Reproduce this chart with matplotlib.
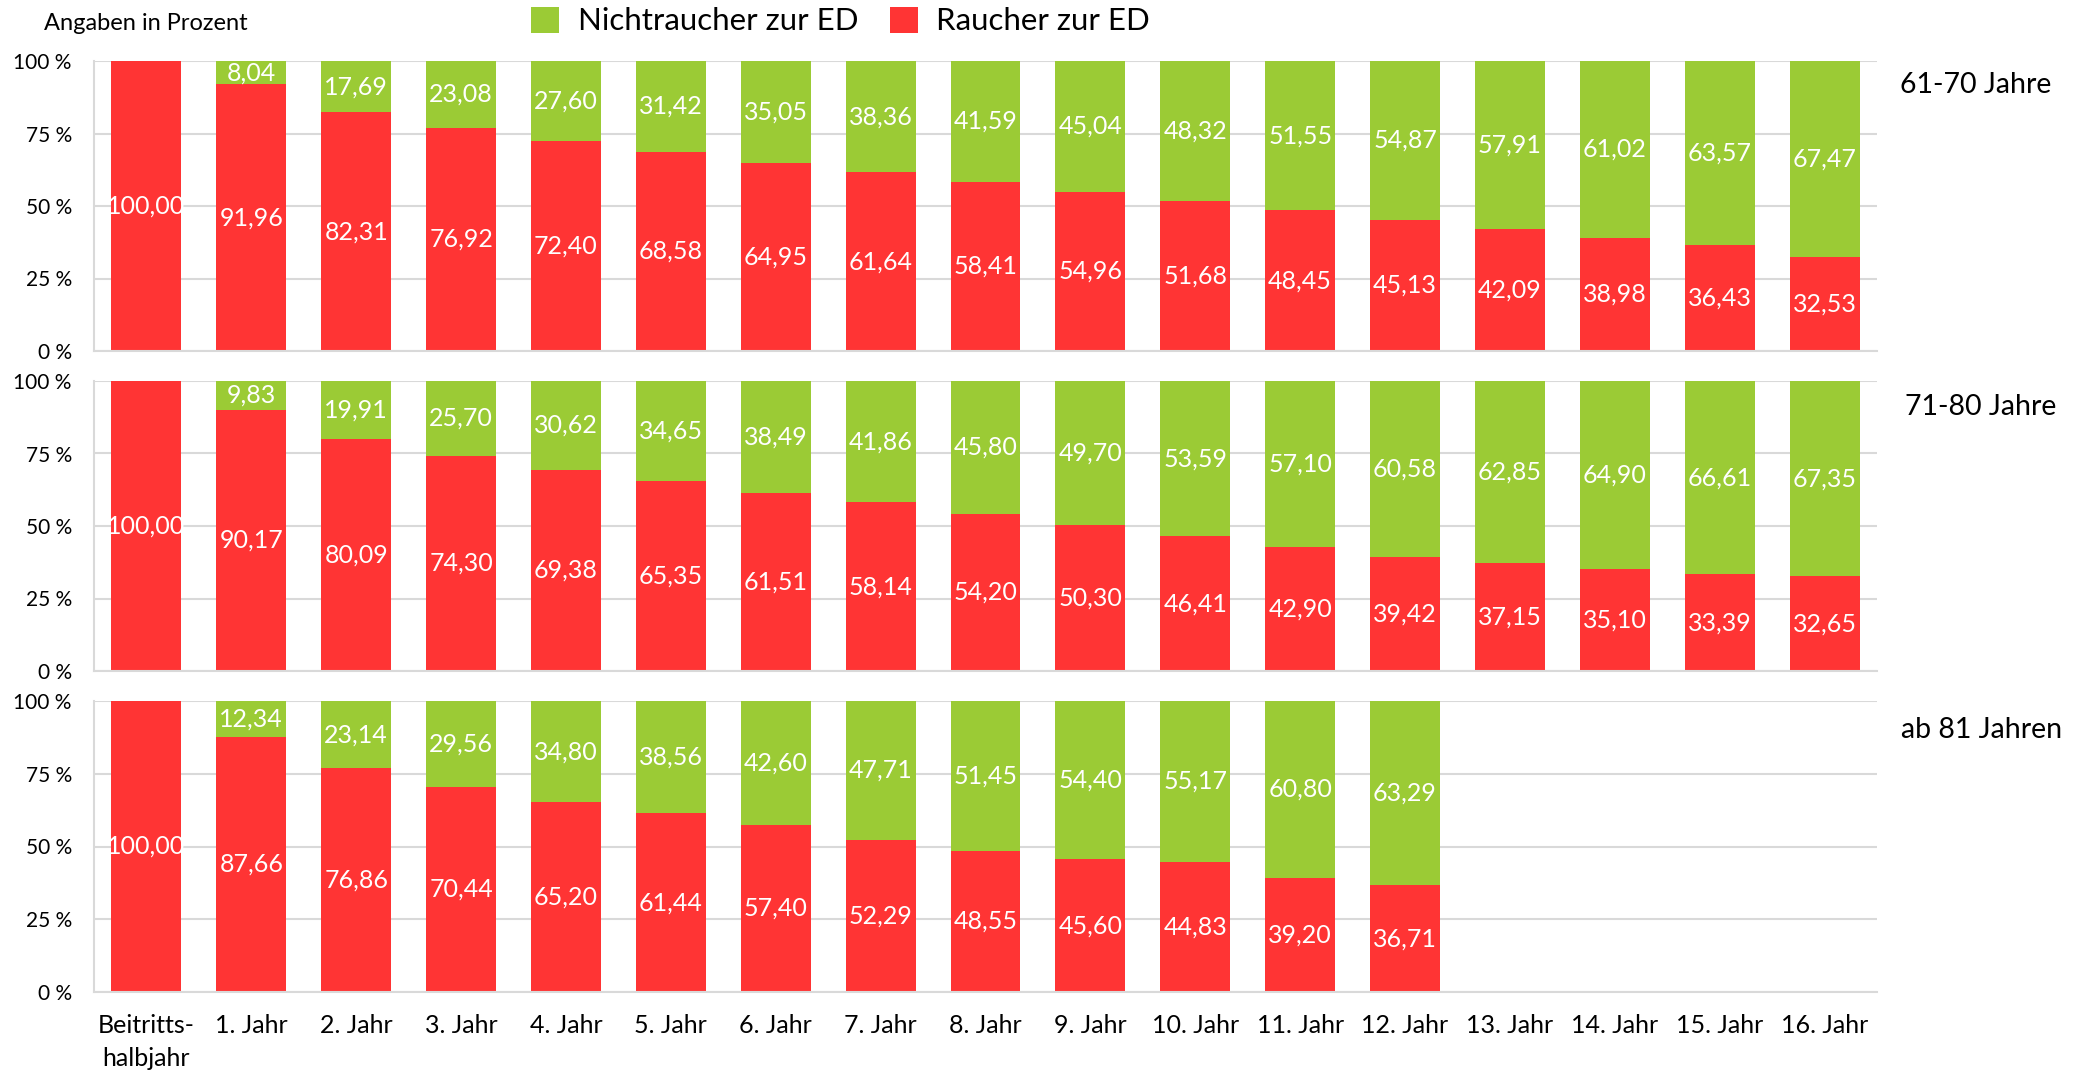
import matplotlib
matplotlib.use('Agg')
import matplotlib.pyplot as plt
import numpy as np

plt.rcParams['font.family'] = ['Lato', 'DejaVu Sans']

categories = ['Beitritts-\nhalbjahr'] + ['%d. Jahr' % i for i in range(1, 17)]
groups = ['61-70 Jahre', '71-80 Jahre', 'ab 81 Jahren']

# Nichtraucher / Raucher zur ED, je Altersgruppe
nichtraucher_61_70 = [0, 8.04, 17.69, 23.08, 27.60, 31.42, 35.05, 38.36, 41.59, 45.04,
                      48.32, 51.55, 54.87, 57.91, 61.02, 63.57, 67.47]
raucher_61_70 = [100.00, 91.96, 82.31, 76.92, 72.40, 68.58, 64.95, 61.64, 58.41, 54.96,
                 51.68, 48.45, 45.13, 42.09, 38.98, 36.43, 32.53]

nichtraucher_71_80 = [0, 9.83, 19.91, 25.70, 30.62, 34.65, 38.49, 41.86, 45.80, 49.70,
                      53.59, 57.10, 60.58, 62.85, 64.90, 66.61, 67.35]
raucher_71_80 = [100.00, 90.17, 80.09, 74.30, 69.38, 65.35, 61.51, 58.14, 54.20, 50.30,
                 46.41, 42.90, 39.42, 37.15, 35.10, 33.39, 32.65]

nichtraucher_ab_81 = [0, 12.34, 23.14, 29.56, 34.80, 38.56, 42.60, 47.71, 51.45, 54.40,
                      55.17, 60.80, 63.29]
raucher_ab_81 = [100.00, 87.66, 76.86, 70.44, 65.20, 61.44, 57.40, 52.29, 48.55, 45.60,
                 44.83, 39.20, 36.71]

panels = [(nichtraucher_61_70, raucher_61_70),
          (nichtraucher_71_80, raucher_71_80),
          (nichtraucher_ab_81, raucher_ab_81)]

GREEN = '#9BCB35'
RED = '#FF3434'
GRID = '#D9D9D9'

W, H = 2092, 1073
fig = plt.figure(figsize=(W / 100, H / 100), dpi=100)

# panel rows in pixels (top, bottom)
rows = [(61, 351), (381, 671), (701, 992)]
left, right = 94, 1877


def fmt(v):
    return ('%.2f' % v).replace('.', ',')


axes = []
for i, ((green, red), (top, bot)) in enumerate(zip(panels, rows)):
    ax = fig.add_axes([left / W, 1 - bot / H, (right - left) / W, (bot - top) / H])
    x = np.arange(len(red))
    rb = ax.bar(x, red, width=0.667, color=RED, label='Raucher zur ED', zorder=2)
    gb = ax.bar(x, green, bottom=red, width=0.667, color=GREEN,
                label='Nichtraucher zur ED', zorder=2)
    ax.bar_label(rb, labels=[fmt(v) for v in red], label_type='center',
                 color='white', fontsize=18)
    ax.bar_label(gb, labels=[fmt(v) if v > 0 else '' for v in green],
                 label_type='center', color='white', fontsize=18)

    ax.set_xlim(-0.5, len(categories) - 0.5)
    ax.set_ylim(0, 100)
    ax.set_yticks([0, 25, 50, 75, 100])
    ax.set_yticklabels(['0 %', '25 %', '50 %', '75 %', '100 %'])
    ax.yaxis.grid(True, color=GRID, linewidth=1.5, zorder=0)
    ax.set_axisbelow(True)
    ax.tick_params(axis='y', length=0, pad=16, labelsize=15)
    ax.tick_params(axis='x', length=0, pad=16, labelsize=18)
    for s in ['top', 'right']:
        ax.spines[s].set_visible(False)
    for s in ['left', 'bottom']:
        ax.spines[s].set_color(GRID)
        ax.spines[s].set_linewidth(1.5)
    ax.set_xticks(np.arange(len(categories)))
    if i == 2:
        ax.set_xticklabels(categories, va='top', linespacing=1.5)
    else:
        ax.set_xticklabels([])
    axes.append(ax)

fig.text(1900 / W, 1 - 85 / H, groups[0], fontsize=20.5, va='center', ha='left')
fig.text(1905 / W, 1 - 407 / H, groups[1], fontsize=20.5, va='center', ha='left')
fig.text(1901 / W, 1 - 730 / H, groups[2], fontsize=20.5, va='center', ha='left')

fig.text(44 / W, 1 - 23 / H, 'Angaben in Prozent', fontsize=17, va='center', ha='left')

h, l = axes[0].get_legend_handles_labels()
fig.legend(h[::-1], l[::-1], loc='center left', ncol=2,
           bbox_to_anchor=(531 / W, 1 - 21 / H), frameon=False,
           fontsize=22.5, handlelength=0.9, handleheight=0.9,
           handletextpad=0.6, columnspacing=1.0, borderpad=0, borderaxespad=0)

fig.savefig('out.png', dpi=100)
